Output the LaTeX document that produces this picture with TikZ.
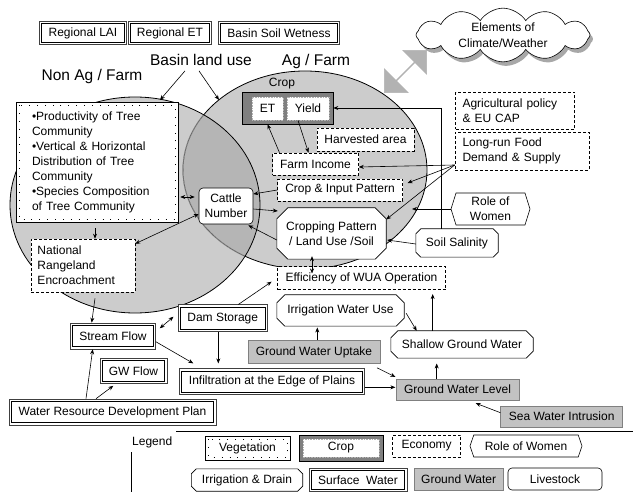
\documentclass[tikz,border=0pt]{standalone}
\usepackage{fontspec}
\setmainfont{Liberation Sans}
\usetikzlibrary{shapes.misc,shapes.symbols,shapes.arrows,shadows,arrows.meta,calc}
\definecolor{elgray}{gray}{0.80}
\definecolor{ovgray}{gray}{0.71}
\definecolor{cropgray}{gray}{0.50}
\definecolor{gwgray}{gray}{0.76}
\definecolor{arrgray}{gray}{0.70}
\pgfdeclarelayer{bg}
\pgfdeclarelayer{shapes}
\pgfsetlayers{bg,shapes,main}
\newcommand\octagonof[2]{%
  \filldraw[fill=white, draw=black, line width=0.6pt]
    ([xshift=#2pt]#1.north west) -- ([xshift=-#2pt]#1.north east) --
    ([yshift=-#2pt]#1.north east) -- ([yshift=#2pt]#1.south east) --
    ([xshift=-#2pt]#1.south east) -- ([xshift=#2pt]#1.south west) --
    ([yshift=#2pt]#1.south west) -- ([yshift=-#2pt]#1.north west) -- cycle;}
\begin{document}
\begin{tikzpicture}[x=1pt,y=-1pt,
  font=\fontsize{12}{15}\selectfont,
  base/.style={inner sep=0pt, align=center, anchor=center},
  veg/.style={base, draw=black, line width=0.5pt, fill=white,
    path picture={\draw[black, line width=0.9pt, dash pattern=on 0.9pt off 7pt]
      ([shift={(3pt,-3pt)}]path picture bounding box.north west) rectangle
      ([shift={(-3pt,3pt)}]path picture bounding box.south east);}},
  cropst/.style={base, draw=black, line width=0.6pt, fill=cropgray,
    path picture={\draw[gray!60, densely dotted, fill=white, line width=0.6pt]
      ([shift={(4pt,-4pt)}]path picture bounding box.north west) rectangle
      ([shift={(-4pt,4pt)}]path picture bounding box.south east);}},
  cropin/.style={base, fill=white, draw=gray!60, densely dotted, line width=0.6pt},
  econ/.style={base, draw=black, line width=0.6pt, dash pattern=on 3pt off 2pt, fill=white},
  women/.style={base, signal, signal to=east and west, draw=black, line width=0.6pt, fill=white},
  irr/.style={base},
  surf/.style={base, draw=gray!50!black, line width=0.6pt, fill=white,
    path picture={\draw[black, line width=0.8pt]
      ([shift={(2.3pt,-2.3pt)}]path picture bounding box.north west) rectangle
      ([shift={(-2.3pt,2.3pt)}]path picture bounding box.south east);}},
  gw/.style={base, draw=gray, line width=0.6pt, fill=gwgray},
  live/.style={base, draw=black, line width=0.6pt, rounded corners=4pt, fill=white},
  arr/.style={-{Stealth[length=5pt,width=4pt]}, line width=0.6pt},
  darr/.style={{Stealth[length=5pt,width=4pt]}-{Stealth[length=5pt,width=4pt]}, line width=0.6pt},
  big/.style={font=\fontsize{15.5}{18}\selectfont, inner sep=0pt}
]
\useasboundingbox (0,0) rectangle (633,492);

% ellipses (background layer)
\begin{pgfonlayer}{bg}
\fill[white] (0,0) rectangle (633,492);
\def\LE{(135,205) ellipse [x radius=125, y radius=108]}
\def\RE{(305,170) ellipse [x radius=122, y radius=99]}
\fill[elgray] \LE;
\fill[elgray] \RE;
\begin{scope}
  \clip \LE;
  \fill[ovgray] \RE;
\end{scope}
\draw[black, line width=0.8pt] \RE;
\begin{scope}
  \clip \LE;
  \draw[ovgray, line width=1.4pt] \RE;
  \draw[gray!70!black, line width=0.5pt] \RE;
\end{scope}
\draw[black, line width=0.8pt] \LE;
\end{pgfonlayer}
\coordinate (leTop) at (160,100);
\coordinate (reTop) at (219,100);

% top boxes
\node[surf, minimum width=87pt, minimum height=23pt] (lai) at (83,33) {Regional LAI};
\node[surf, minimum width=83pt, minimum height=23pt] (ret) at (170,33) {Regional ET};
\node[surf, minimum width=121pt, minimum height=23pt] (bsw) at (279,33) {Basin Soil Wetness};

% cloud
\node[cloud, cloud puffs=12, cloud puff arc=115, aspect=3.4, draw=black, line width=0.6pt, fill=white,
  minimum width=174pt, minimum height=52pt, inner sep=0pt, align=center,
  drop shadow={shadow xshift=3pt, shadow yshift=-4pt, fill=gray!75, opacity=0.9},
  font=\fontsize{12}{16}\selectfont] (cloud) at (503,35) {Elements of\\Climate/Weather};

% big gray arrow
\node[double arrow, fill=arrgray, draw=gray!60, line width=0.5pt, minimum height=60pt, minimum width=34pt,
  double arrow head extend=10pt, rotate=45, inner sep=0pt] (bigarr) at (405.5,71.5) {};

% titles
\node[big] (bl) at (201,60) {Basin land use};
\node[big] (naf) at (92,76) {Non Ag / Farm};
\node[big] (af) at (316,61) {Ag / Farm};
\node[inner sep=0pt] (croplbl) at (282,84) {Crop};

% crop container
\node[base, draw=black, fill=cropgray, line width=0.6pt, minimum width=91pt, minimum height=32pt] (cropbox) at (287.5,108) {};
\node[cropin, minimum width=31pt, minimum height=23pt] (et) at (267.5,108.5) {ET};
\node[cropin, minimum width=42pt, minimum height=23pt] (yield) at (308,108.5) {Yield};

% economy boxes
\node[econ, minimum width=97pt, minimum height=23pt] (ha) at (365.5,139.5) {Harvested area};
\node[econ, minimum width=86pt, minimum height=22pt] (fi) at (315.5,164) {Farm Income};
\node[econ, minimum width=125pt, minimum height=22pt] (cip) at (340,190) {Crop \& Input Pattern};
\node[econ, minimum width=119pt, minimum height=37pt, text width=105pt, align=left] (agp) at (515,111) {Agricultural policy\\\& EU CAP};
\node[econ, minimum width=134pt, minimum height=38pt, text width=119pt, align=left] (lr) at (522,151) {Long-run Food\\Demand \& Supply};
\node[econ, minimum width=168pt, minimum height=23pt] (eff) at (361.5,278.3) {Efficiency of WUA Operation};
\node[econ, minimum width=104pt, minimum height=53pt, text width=91pt, align=left] (nat) at (83,265.5) {National\\Rangeland\\Encroachment};

% women / irrigation shapes
\node[women, signal pointer angle=145, minimum width=79pt, minimum height=32pt] (rw) at (490.5,209) {Role of\\Women};
\node[irr, minimum width=82pt, minimum height=28pt] (ss) at (457,243) {Soil Salinity};
\node[irr, minimum width=109pt, minimum height=51pt] (cp) at (331.5,233.5) {Cropping Pattern\\/ Land Use /Soil};
\node[irr, minimum width=127pt, minimum height=31pt] (iwu) at (340.5,310.5) {Irrigation Water Use};
\node[irr, minimum width=142pt, minimum height=27pt] (sgw) at (462,344.5) {Shallow Ground Water};

% livestock
\node[live, minimum width=54pt, minimum height=36pt] (cattle) at (226,206) {Cattle\\Number};

% vegetation
\node[veg, minimum width=162pt, minimum height=120pt, text width=130pt, align=left] (tree) at (97,162)
  {•Productivity of Tree\\Community\\•Vertical \& Horizontal\\Distribution of Tree\\Community\\•Species Composition\\of Tree Community};

% ground water
\node[gw, minimum width=132pt, minimum height=23pt] (gwu) at (314,352) {Ground Water Uptake};
\node[gw, minimum width=123pt, minimum height=21pt] (gwl) at (457.5,389.7) {Ground Water Level};
\node[gw, minimum width=122pt, minimum height=21pt] (swi) at (561.7,416.7) {Sea Water Intrusion};

% surface water
\node[surf, minimum width=185pt, minimum height=26pt] (inf) at (272,381.7) {Infiltration at the Edge of Plains};
\node[surf, minimum width=89pt, minimum height=27pt] (ds) at (222.7,318.3) {Dam Storage};
\node[surf, minimum width=85pt, minimum height=26pt] (sf) at (113,336) {Stream Flow};
\node[surf, minimum width=67pt, minimum height=25pt] (gwf) at (133.5,371) {GW Flow};
\node[surf, minimum width=207pt, minimum height=26pt] (wrdp) at (112.5,412) {Water Resource Development Plan};

% legend
\draw[line width=0.7pt] (176,431) -- (633,431);
\draw[line width=0.7pt] (131.7,452) -- (131.7,492);
\node[inner sep=0pt, anchor=west] (leg) at (132,442.7) {Legend};
\node[veg, minimum width=85pt, minimum height=24pt] (lveg) at (247.5,448) {Vegetation};
\node[cropst, minimum width=84pt, minimum height=26pt] (lcrop) at (341,448) {Crop};
\node[econ, minimum width=68pt, minimum height=22pt] (lecon) at (426.7,446) {Economy};
\node[women, signal pointer angle=142, minimum width=112pt, minimum height=22pt] (lrw) at (526,446) {Role of Women};
\node[irr, minimum width=111pt, minimum height=22pt] (lirr) at (247,480) {Irrigation \& Drain};
\node[surf, minimum width=98pt, minimum height=23pt] (lsurf) at (358,480) {Surface\ \ Water};
\node[gw, minimum width=89pt, minimum height=22pt] (lgw) at (458.7,479) {Ground Water};
\node[live, minimum width=94pt, minimum height=22pt] (llive) at (555,479) {Livestock};

% chamfered outlines behind the texts
\begin{pgfonlayer}{shapes}
\octagonof{ss}{5}
\octagonof{cp}{11}
\octagonof{iwu}{8}
\octagonof{sgw}{7}
\octagonof{lirr}{5}
\end{pgfonlayer}

% connectors
\draw[arr] ([shift={(-16pt,-5pt)}]bl.south) -- (leTop);
\draw[arr] ([shift={(-2pt,-5pt)}]bl.south) -- (reTop);
\draw[arr] ([yshift=-14pt]lr.west) -- ([yshift=-3pt]fi.east);
\draw[arr] ([yshift=-14pt]lr.west) -- ([shift={(4.7pt,-4.3pt)}]cip.north east);
\draw[arr] ([yshift=-14pt]lr.west) -- ([yshift=14pt]cp.east);
\coordinate (rwTip) at (412,209);
\draw[arr] (rw.west) -- (rwTip);
\draw[arr] ([yshift=-1pt]ss.west) -- ([shift={(1pt,-6.5pt)}]cp.east);
\draw[arr] ([xshift=-16pt]ss.north) |- (cropbox.east);
\draw[arr] ([xshift=-36pt]fi.north) -- (et.south |- cropbox.south);
\draw[arr] ([xshift=-10pt]yield.south) -- ([xshift=-7pt]fi.north);
\draw[arr] (cip.west) -- ([yshift=12pt]cattle.east);
\draw[arr] ([yshift=-3pt]cattle.east) -- ([shift={(1pt,22.5pt)}]cp.west);
\draw[arr] ([yshift=-6.5pt]cp.west) -- ([shift={(-5pt,-1pt)}]cattle.south east);
\draw[darr] ([shift={(2pt,-35pt)}]tree.east) -- ([shift={(-4pt,9pt)}]cattle.west);
\draw[arr] ([shift={(-2pt,-6pt)}]tree.south) -- ([xshift=12pt]nat.north);
\draw[darr] ([yshift=-8pt]cattle.west) -- ([yshift=-5pt]nat.north east);
\draw[arr] ([shift={(12pt,-6pt)}]nat.south) -- ([xshift=-21.3pt]sf.north);
\draw[darr] ([shift={(4pt,7.7pt)}]sf.east) -- ([shift={(-4.4pt,1.6pt)}]ds.west);
\draw[arr] ([yshift=-5.7pt]sf.east) -- ([shift={(-78.7pt,5pt)}]inf.north);
\draw[arr] ([xshift=-4.4pt]ds.south) -- ([shift={(-53.7pt,5pt)}]inf.north);
\draw[arr] ([xshift=15.6pt]ds.north) -- ([shift={(-5.6pt,-3.4pt)}]eff.west);
\draw[arr] ([xshift=-26.5pt]wrdp.north) -- ([xshift=-20.3pt]sf.south);
\draw[arr] ([xshift=-16.5pt]wrdp.north) -- ([shift={(-20.2pt,-2pt)}]gwf.south);
\draw[darr] ([shift={(-19.5pt,3pt)}]cp.south) -- ([shift={(-49.5pt,-7pt)}]eff.north);
\draw[arr] ([xshift=3.3pt]gwu.north) -- ([shift={(-23.2pt,-1.3pt)}]iwu.south);
\draw[arr] ([shift={(2pt,-2.8pt)}]iwu.east) -- ([xshift=-45.3pt]sgw.north);
\draw[arr] ([xshift=-29.3pt]sgw.north) -- ([shift={(71.2pt,-4pt)}]eff.south);
\draw[arr] ([xshift=-20.8pt]gwl.north) -- ([shift={(-25.3pt,-5.3pt)}]sgw.south);
\draw[arr] ([shift={(-3.3pt,-4pt)}]gwu.south east) -- ([shift={(-0.3pt,2pt)}]gwl.north west);
\draw[arr] ([yshift=-5.6pt]inf.east) -- ([shift={(-0.3pt,2.4pt)}]gwl.west);
\draw[arr] ([yshift=4pt]swi.west) -- ([shift={(18.2pt,-2.7pt)}]gwl.south);
\end{tikzpicture}
\end{document}
